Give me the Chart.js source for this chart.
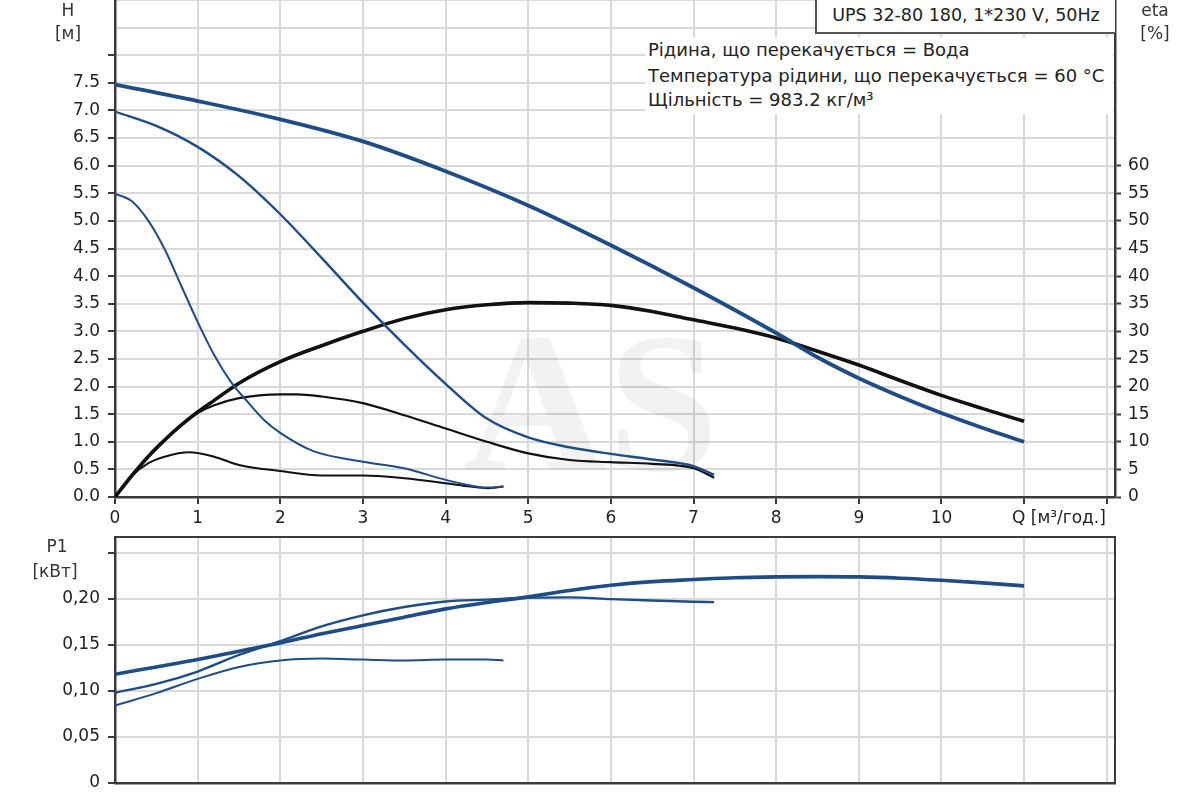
<!DOCTYPE html>
<html>
<head>
<meta charset="utf-8">
<script src="https://cdn.jsdelivr.net/npm/chart.js@4.4.1/dist/chart.umd.min.js"></script>
<style>
  html, body { margin:0; padding:0; background:#fff; width:1200px; height:800px; overflow:hidden; }
  #wrap { position:relative; width:1200px; height:800px; font-family:"DejaVu Sans", sans-serif; color:#222; }
  canvas { position:absolute; left:0; }
  .t { position:absolute; font-size:17px; color:#333; white-space:nowrap; transform:translate(-50%,-50%); }
  .l { position:absolute; font-size:18px; color:#222; white-space:nowrap; }
  #titlebox { position:absolute; left:815px; top:-3px; width:298px; height:35px; background:#fff;
    border-left:2px solid #555; border-bottom:2px solid #555; font-size:17.5px; line-height:37px; text-align:center; color:#222; }
  #info { position:absolute; left:645px; top:37px; width:468px; height:77px; background:#fff; }
</style>
</head>
<body>
<div id="wrap">
  <canvas id="top" width="1200" height="535" style="top:0"></canvas>
  <canvas id="bot" width="1200" height="270" style="top:530px"></canvas>
  <div id="titlebox">UPS 32-80 180, 1*230 V, 50Hz</div>
  <div id="info">
    <div class="l" style="left:3px; top:2px;">Рідина, що перекачується = Вода</div>
    <div class="l" style="left:3px; top:28px;">Температура рідини, що перекачується = 60 °C</div>
    <div class="l" style="left:3px; top:52px;">Щільність = 983.2 кг/м³</div>
  </div>
  <div class="t" style="left:68px; top:10px;">H</div>
  <div class="t" style="left:68px; top:33px;">[м]</div>
  <div class="t" style="left:1155px; top:10px;">eta</div>
  <div class="t" style="left:1155px; top:33px;">[%]</div>
  <div class="t" style="left:57px; top:546px;">P1</div>
  <div class="t" style="left:55px; top:571px;">[кВт]</div>
  <div class="l" style="left:1012px; top:507px; font-size:17px;">Q [м³/год.]</div>
</div>
<script>
// ---- Data ----
// Q-H curves, speeds 3 / 2 / 1  (Q in m3/h, H in m)
const qH3 = [0, 1, 2, 3, 4, 5, 6, 7, 8, 8.5, 9, 9.5, 10, 10.5, 11];
const h3  = [7.47, 7.17, 6.84, 6.44, 5.90, 5.28, 4.56, 3.79, 2.97, 2.53, 2.15, 1.82, 1.52, 1.25, 1.0];
const qH2 = [0, 0.5, 1, 1.5, 2, 2.5, 3, 3.5, 4, 4.5, 5, 5.5, 6, 6.5, 7, 7.25];
const h2  = [6.98, 6.72, 6.34, 5.81, 5.12, 4.33, 3.52, 2.76, 2.05, 1.42, 1.08, 0.90, 0.78, 0.68, 0.56, 0.40];
const qH1 = [0, 0.2, 0.4, 0.6, 0.8, 1.0, 1.2, 1.4, 1.6, 1.8, 2.0, 2.4, 3.0, 3.5, 4.0, 4.3, 4.5, 4.7];
const h1  = [5.49, 5.36, 5.01, 4.49, 3.83, 3.17, 2.57, 2.09, 1.73, 1.40, 1.16, 0.83, 0.64, 0.52, 0.31, 0.21, 0.17, 0.19];
// Efficiency curves (eta, %)
const qE3 = [0, 0.2, 0.4, 0.6, 0.8, 1.0, 1.2, 1.5, 2, 2.5, 3, 3.5, 4, 4.5, 5, 5.5, 6, 6.5, 7, 7.5, 8, 8.5, 9, 9.5, 10, 10.5, 11];
const e3  = [0, 3.8, 7.3, 10.3, 13.0, 15.4, 17.5, 20.6, 24.5, 27.4, 30.0, 32.3, 33.9, 34.8, 35.2, 35.1, 34.7, 33.6, 32.1, 30.6, 28.8, 26.4, 23.9, 21.1, 18.4, 16.0, 13.7];
const qE2 = [0, 0.2, 0.4, 0.6, 0.8, 1.0, 1.2, 1.5, 2.0, 2.2, 2.5, 3.0, 3.5, 4.0, 4.5, 5.0, 5.5, 6.0, 6.5, 7.0, 7.25];
const e2  = [0, 3.8, 7.3, 10.3, 13.0, 15.2, 16.6, 17.9, 18.6, 18.6, 18.2, 17.0, 14.8, 12.4, 10.0, 7.9, 6.7, 6.3, 6.0, 5.2, 3.5];
const qE1 = [0, 0.2, 0.4, 0.6, 0.9, 1.2, 1.5, 2.0, 2.5, 3.0, 3.5, 4.0, 4.3, 4.5, 4.7];
const e1  = [0, 3.8, 6.1, 7.3, 8.1, 7.3, 5.8, 4.7, 3.9, 3.9, 3.4, 2.5, 1.9, 1.6, 1.9];
// Power input P1 (kW)
const qP3 = [0, 0.5, 1, 1.5, 2, 2.5, 3, 3.5, 4, 4.5, 5, 5.5, 6, 6.5, 7, 7.5, 8, 8.5, 9, 9.5, 10, 10.5, 11];
const p3  = [0.118, 0.126, 0.134, 0.143, 0.152, 0.162, 0.171, 0.180, 0.189, 0.196, 0.202, 0.209, 0.2146, 0.2186, 0.2208, 0.2228, 0.2237, 0.224, 0.2237, 0.2223, 0.220, 0.2172, 0.214];
const qP2 = [0, 0.5, 1, 1.5, 2, 2.5, 3, 3.5, 4, 4.5, 5, 5.5, 6, 6.5, 7, 7.25];
const p2  = [0.098, 0.1075, 0.121, 0.139, 0.154, 0.170, 0.182, 0.191, 0.197, 0.199, 0.201, 0.2015, 0.1996, 0.198, 0.1967, 0.1963];
const qP1 = [0, 0.5, 1, 1.5, 2, 2.5, 3, 3.5, 4, 4.5, 4.7];
const p1  = [0.084, 0.0975, 0.113, 0.126, 0.133, 0.135, 0.134, 0.133, 0.134, 0.134, 0.133];
// Axis tick labels
const qTickLabels = ['0','1','2','3','4','5','6','7','8','9','10','',''];
const hTickMaxLabel = 7.5;
const hTickMaxMark = 8.0;
const etaTickMaxLabel = 60;
const pTickMaxLabel = 0.20;

// ---- Helpers ----
const pts = (qs, vs) => qs.map((q, i) => ({x: q, y: vs[i]}));
const BLUE = '#1d4c86';
const BLACK = '#111111';
const GRID = '#d9d9d9';
const AXIS = '#3a3a3a';
const FONT = {family: '"DejaVu Sans", sans-serif', size: 17};

function line(data, color, width, axis) {
  return {data, borderColor: color, borderWidth: width, pointRadius: 0, fill: false,
          cubicInterpolationMode: 'monotone', yAxisID: axis, borderCapStyle: 'butt'};
}
function fixW(w) { return s => { s.width = w; s.paddingTop = 0; s.paddingBottom = 0; }; }
function fixH(h) { return s => { s.height = h; s.paddingLeft = 0; s.paddingRight = 0; }; }

const watermark = {
  id: 'watermark',
  beforeDatasetsDraw(chart) {
    const {ctx, chartArea} = chart;
    ctx.save();
    ctx.font = 'bold 200px "Liberation Serif", serif';
    ctx.fillStyle = 'rgba(0,0,0,0.05)';
    ctx.textBaseline = 'alphabetic';
    ctx.fillText('AS', chartArea.left + 348, chartArea.top + 470);
    ctx.restore();
  }
};
const frame = {
  id: 'frame',
  afterDraw(chart) {
    const {ctx, chartArea: a} = chart;
    ctx.save();
    ctx.strokeStyle = AXIS; ctx.lineWidth = 2;
    ctx.beginPath();
    ctx.moveTo(a.left, a.top); ctx.lineTo(a.right, a.top); ctx.lineTo(a.right, a.bottom);
    ctx.stroke();
    ctx.restore();
  }
};

Chart.defaults.font.family = FONT.family;

new Chart(document.getElementById('top'), {
  type: 'line',
  data: { datasets: [
    line(pts(qH1, h1), BLUE, 2, 'h'),
    line(pts(qH2, h2), BLUE, 2.4, 'h'),
    line(pts(qH3, h3), BLUE, 3.8, 'h'),
    line(pts(qE1, e1), BLACK, 2, 'eta'),
    line(pts(qE2, e2), BLACK, 2.2, 'eta'),
    line(pts(qE3, e3), BLACK, 3.6, 'eta'),
  ]},
  plugins: [watermark],
  options: {
    responsive: false, animation: false, devicePixelRatio: 1,
    layout: {padding: 0},
    plugins: {legend: {display: false}, tooltip: {enabled: false}},
    scales: {
      x: {
        type: 'linear', min: 0, max: 12.1,
        afterFit: fixH(38),
        ticks: {stepSize: 1, includeBounds: false, autoSkip: false, maxRotation: 0, padding: 4,
                color: '#222', font: FONT,
                callback: v => (Number.isInteger(v) && qTickLabels[v] !== undefined) ? qTickLabels[v] : ''},
        grid: {color: GRID, lineWidth: 2, tickLength: 7, tickColor: AXIS, tickWidth: 2},
        border: {color: AXIS, width: 2.5}
      },
      h: {
        type: 'linear', position: 'left', min: 0, max: 9,
        afterFit: fixW(115),
        ticks: {stepSize: 0.5, includeBounds: false, padding: 8, color: '#222', font: FONT,
                callback: v => v <= hTickMaxLabel + 1e-6 ? v.toFixed(1) : ''},
        grid: {color: GRID, lineWidth: 2, tickLength: 7, tickWidth: 2,
               tickColor: c => (c.tick && c.tick.value > hTickMaxMark + 1e-6) ? 'rgba(0,0,0,0)' : AXIS},
        border: {color: AXIS, width: 2.5}
      },
      eta: {
        type: 'linear', position: 'right', min: 0, max: 90,
        afterFit: fixW(85),
        ticks: {stepSize: 5, includeBounds: false, padding: 7, color: '#222', font: FONT,
                callback: v => v <= etaTickMaxLabel ? String(v) : ''},
        grid: {drawOnChartArea: false, tickLength: 6, tickWidth: 2, color: AXIS,
               tickColor: c => (c.tick && c.tick.value > etaTickMaxLabel) ? 'rgba(0,0,0,0)' : AXIS},
        border: {color: AXIS, width: 2.5}
      }
    }
  }
});

new Chart(document.getElementById('bot'), {
  type: 'line',
  data: { datasets: [
    line(pts(qP1, p1), BLUE, 2, 'p'),
    line(pts(qP2, p2), BLUE, 2.4, 'p'),
    line(pts(qP3, p3), BLUE, 3.6, 'p'),
  ]},
  plugins: [frame],
  options: {
    responsive: false, animation: false, devicePixelRatio: 1,
    layout: {padding: {top: 7, right: 85, left: 0, bottom: 0}},
    plugins: {legend: {display: false}, tooltip: {enabled: false}},
    scales: {
      x: {
        type: 'linear', min: 0, max: 12.1,
        afterFit: fixH(17),
        ticks: {display: false, stepSize: 1, includeBounds: false},
        grid: {color: GRID, lineWidth: 2, drawTicks: false},
        border: {color: AXIS, width: 2.5}
      },
      p: {
        type: 'linear', position: 'left', min: 0, max: 0.267,
        afterFit: fixW(115),
        ticks: {stepSize: 0.05, includeBounds: false, padding: 8, color: '#222', font: FONT,
                callback: v => v === 0 ? '0' : (v <= pTickMaxLabel + 1e-6 ? v.toFixed(2).replace('.', ',') : '')},
        grid: {color: GRID, lineWidth: 2, tickLength: 7, tickColor: AXIS, tickWidth: 2},
        border: {color: AXIS, width: 2.5}
      }
    }
  }
});
</script>
</body>
</html>
